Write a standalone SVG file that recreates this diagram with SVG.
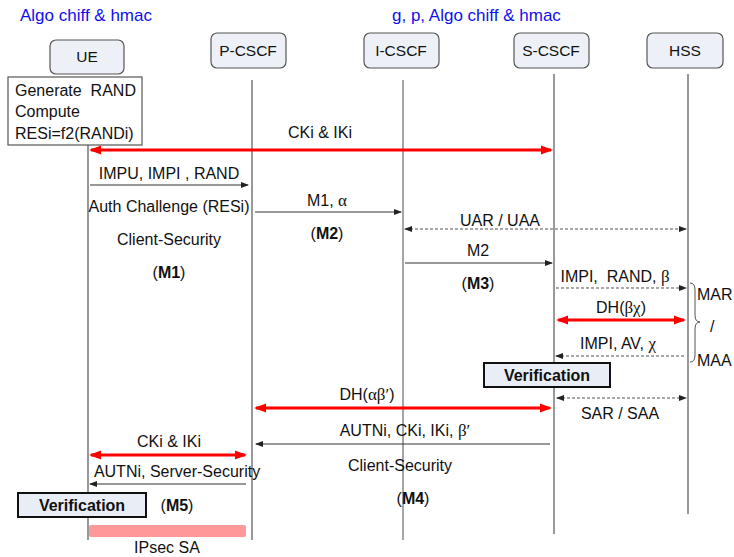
<svg xmlns="http://www.w3.org/2000/svg" width="734" height="557" viewBox="0 0 734 557">
<defs>
<style>
text{font-family:"Liberation Sans",Arial,sans-serif;font-size:16px;fill:#111;white-space:pre;}
.title{fill:#1010EE;font-size:17px;}
.b{font-weight:bold;}
.g{font-family:"Liberation Serif","Times New Roman",serif;font-size:17px;}
.node rect{fill:#EDF1F7;stroke:#555;stroke-width:1.2;}
.node text{font-size:15.5px;text-anchor:middle;}
.life{stroke:#555;stroke-width:1.2;fill:none;}
.red{stroke:#FF0000;stroke-width:3;fill:none;}
.blk{stroke:#333;stroke-width:1.1;fill:none;}
.dash{stroke:#555;stroke-width:1.1;stroke-dasharray:3,2;fill:none;}
.mid{text-anchor:middle;}
.ver rect{fill:#E9EEF6;stroke:#111;stroke-width:2;}
.ver text{font-weight:bold;text-anchor:middle;font-size:16px;}
</style>
<marker id="ar" markerUnits="userSpaceOnUse" markerWidth="12" markerHeight="10" refX="10" refY="5" orient="auto-start-reverse" viewBox="0 0 12 10"><path d="M0,0.5 L12,5 L0,9.5 z" fill="#FF0000"/></marker>
<marker id="ab" markerUnits="userSpaceOnUse" markerWidth="8" markerHeight="8" refX="7" refY="4" orient="auto-start-reverse" viewBox="0 0 8 8"><path d="M0,1 L8,4 L0,7 z" fill="#222"/></marker>
</defs>
<rect width="734" height="557" fill="#fff"/>

<text class="title" x="20" y="21">Algo chiff &amp; hmac</text>
<text class="title" x="392" y="21">g, p, Algo chiff &amp; hmac</text>

<g id="lifelines">
<line class="life" x1="88" y1="145" x2="88" y2="540"/>
<line class="life" x1="252" y1="80" x2="252" y2="540"/>
<line class="life" x1="403" y1="80" x2="403" y2="540" style="stroke:#888;stroke-width:1.5"/>
<line class="life" x1="554" y1="74" x2="554" y2="534"/>
<line class="life" x1="688" y1="74" x2="688" y2="514"/>
</g>

<g id="UE" class="node"><rect x="50" y="40" width="74" height="34" rx="6"/><text x="87" y="62">UE</text></g>
<g id="P-CSCF" class="node"><rect x="211" y="33" width="75" height="35" rx="6"/><text x="248" y="56">P-CSCF</text></g>
<g id="I-CSCF" class="node"><rect x="364" y="33" width="75" height="35" rx="6"/><text x="401" y="56">I-CSCF</text></g>
<g id="S-CSCF" class="node"><rect x="514" y="33" width="75" height="35" rx="6"/><text x="551" y="56">S-CSCF</text></g>
<g id="HSS" class="node"><rect x="647" y="33" width="76" height="35" rx="6"/><text x="685" y="56">HSS</text></g>

<g id="ue-note">
<rect x="8" y="77" width="134" height="68" fill="#fff" stroke="#555" stroke-width="1.2"/>
<text x="15" y="96">Generate  RAND</text>
<text x="15" y="117">Compute</text>
<text x="15" y="139">RESi=f2(RANDi)</text>
</g>

<g id="connectors">
<line class="red" x1="91" y1="150" x2="551" y2="150" marker-start="url(#ar)" marker-end="url(#ar)"/>
<line class="blk" x1="90" y1="185" x2="248" y2="185" marker-end="url(#ab)"/>
<line class="blk" x1="255" y1="212" x2="401" y2="212" marker-end="url(#ab)"/>
<line class="dash" x1="405" y1="229" x2="686" y2="229" marker-start="url(#ab)" marker-end="url(#ab)"/>
<line class="blk" x1="405" y1="263" x2="552" y2="263" marker-end="url(#ab)"/>
<line class="dash" x1="556" y1="288" x2="686" y2="288" marker-end="url(#ab)"/>
<line class="red" x1="558" y1="320" x2="684" y2="320" marker-start="url(#ar)" marker-end="url(#ar)"/>
<line class="dash" x1="684" y1="356" x2="556" y2="356" marker-end="url(#ab)"/>
<line class="dash" x1="557" y1="398" x2="686" y2="398" marker-start="url(#ab)" marker-end="url(#ab)"/>
<line class="red" x1="256" y1="408" x2="550" y2="408" marker-start="url(#ar)" marker-end="url(#ar)"/>
<line class="blk" x1="550" y1="444" x2="256" y2="444" marker-end="url(#ab)"/>
<line class="red" x1="91" y1="455" x2="245" y2="455" marker-start="url(#ar)" marker-end="url(#ar)"/>
<line class="blk" x1="246" y1="484" x2="90" y2="484" marker-end="url(#ab)"/>
<path d="M690,283 Q695,283 695,290 L695,315 Q695,322 700,322 Q695,322 695,329 L695,355 Q695,362 690,362" fill="none" stroke="#555" stroke-width="1"/>
</g>

<g id="labels">
<text class="mid" x="320" y="138">CKi &amp; IKi</text>
<text class="mid" x="169" y="179">IMPU, IMPI , RAND</text>
<text class="mid" x="169" y="212">Auth Challenge (RESi)</text>
<text class="mid" x="169" y="245">Client-Security</text>
<text class="mid" x="169" y="278">(<tspan class="b">M1</tspan>)</text>
<text class="mid" x="327" y="206">M1, <tspan class="g">α</tspan></text>
<text class="mid" x="327" y="239">(<tspan class="b">M2</tspan>)</text>
<text class="mid" x="500" y="226">UAR / UAA</text>
<text class="mid" x="478" y="256">M2</text>
<text class="mid" x="478" y="289">(<tspan class="b">M3</tspan>)</text>
<text class="mid" x="615" y="282">IMPI,  RAND, <tspan class="g">β</tspan></text>
<text class="mid" x="621" y="313">DH(<tspan class="g">βχ</tspan>)</text>
<text class="mid" x="618" y="349">IMPI, AV, <tspan class="g">χ</tspan></text>
<text x="697" y="300">MAR</text>
<text x="710" y="332">/</text>
<text x="697" y="366">MAA</text>
<text class="mid" x="367" y="400">DH(<tspan class="g">αβ′</tspan>)</text>
<text class="mid" x="620" y="419">SAR / SAA</text>
<text class="mid" x="405" y="436">AUTNi, CKi, IKi, <tspan class="g">β′</tspan></text>
<text class="mid" x="400" y="471">Client-Security</text>
<text class="mid" x="413" y="504">(<tspan class="b">M4</tspan>)</text>
<text class="mid" x="169" y="447">CKi &amp; IKi</text>
<text class="mid" x="177" y="477">AUTNi, Server-Security</text>
<text class="mid" x="177" y="511">(<tspan class="b">M5</tspan>)</text>
<text class="mid" x="167" y="553">IPsec SA</text>
</g>

<g id="verif-s" class="ver"><rect x="484" y="363" width="126" height="24"/><text x="547" y="381">Verification</text></g>
<g id="verif-ue" class="ver"><rect x="18" y="493" width="128" height="24"/><text x="82" y="511">Verification</text></g>
<g id="ipsec"><rect x="89" y="525" width="157" height="12" rx="2" fill="#FF9999"/></g>
</svg>
